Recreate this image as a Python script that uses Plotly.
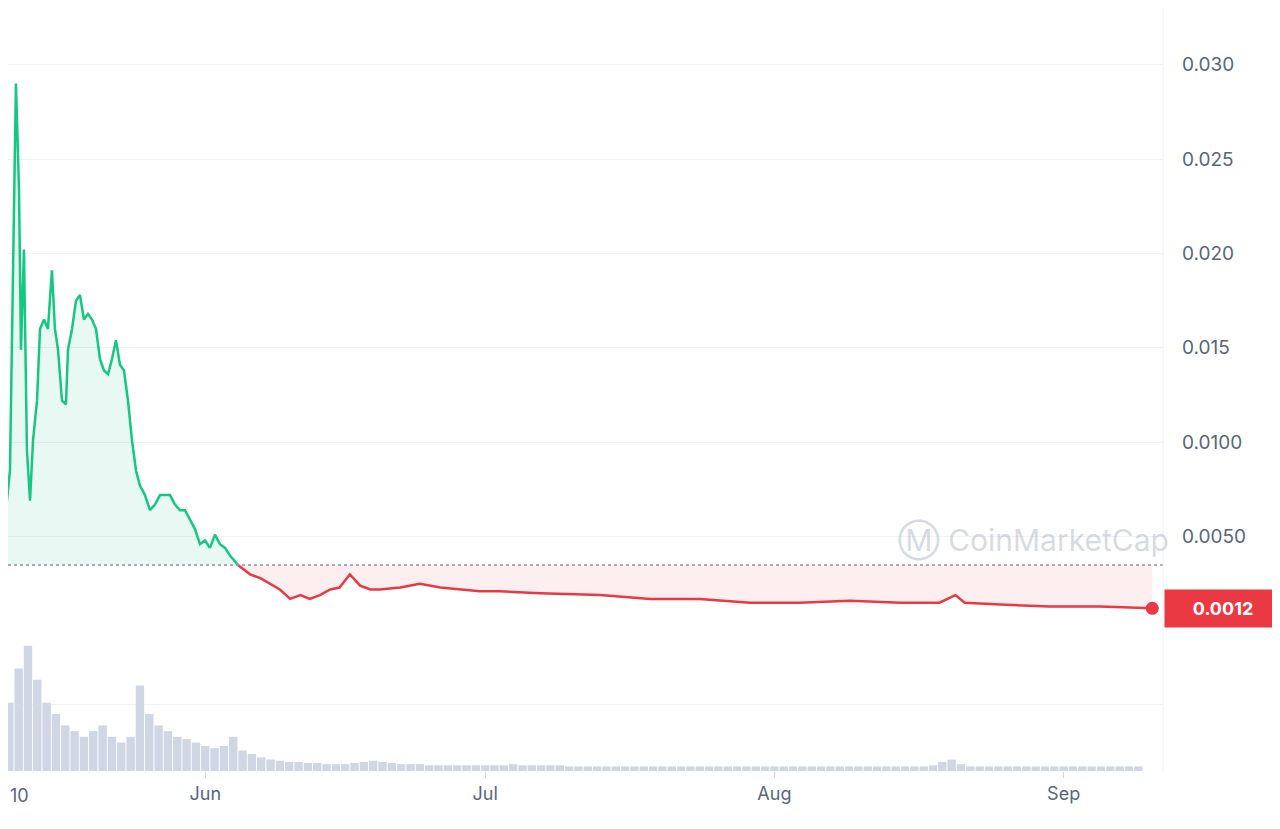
import plotly.graph_objects as go
import pandas as pd

start = pd.Timestamp("2023-05-10")
green_days = [0,0.54,1.07,1.5,1.71,2.04,2.25,2.57,2.89,3.22,3.54,3.97,4.29,4.72,5.14,5.57,5.89,6.22,6.65,7.07,7.29,7.72,8.15,8.57,9.0,9.43,9.86,10.29,10.72,11.15,11.58,12.0,12.43,12.86,13.29,13.72,14.15,14.58,15.0,15.54,16.08,16.61,17.15,17.68,18.22,18.76,19.29,19.83,20.36,20.9,21.44,21.97,22.5,23.04,23.58,24.12,24.65,25.19,25.5]
green_price = [0.0046,0.0059,0.0085,0.0229,0.0290,0.0234,0.0149,0.0202,0.0096,0.0069,0.0101,0.0122,0.0160,0.0165,0.0160,0.0191,0.0160,0.0149,0.0122,0.0120,0.0149,0.0160,0.0175,0.0178,0.0165,0.0168,0.0165,0.0160,0.0144,0.0138,0.0136,0.0144,0.0154,0.0141,0.0138,0.0122,0.0101,0.0085,0.0077,0.0072,0.0064,0.0067,0.0072,0.0072,0.0072,0.0067,0.0064,0.0064,0.0059,0.0054,0.0046,0.0048,0.0044,0.0051,0.0046,0.0044,0.0040,0.0037,0.0035]
red_days = [25.5,26.8,27.9,28.9,30.0,31.1,32.2,33.2,34.3,35.4,36.4,37.5,38.6,39.7,40.7,42.9,45.0,47.2,49.3,51.4,53.6,57.9,64.3,69.7,75.0,80.4,85.7,91.1,96.5,100.7,102.4,103.4,107.2,112.5,117.9,123.5]
red_price = [0.0035,0.0030,0.0028,0.0025,0.0022,0.0017,0.0019,0.0017,0.0019,0.0022,0.0023,0.0030,0.0024,0.0022,0.0022,0.0023,0.0025,0.0023,0.0022,0.0021,0.0021,0.0020,0.0019,0.0017,0.0017,0.0015,0.0015,0.0016,0.0015,0.0015,0.0019,0.0015,0.0014,0.0013,0.0013,0.0012]
volume = [30,60,90,110,80,60,50,40,35,30,35,40,30,25,30,75,50,40,35,30,28,25,22,20,22,30,18,15,12,10,
          9,8,8,7,7,6,6,6,7,8,9,8,7,6,6,6,5,5,5,5,5,5,5,5,5,6,5,5,5,5,5,4,4,4,4,4,4,4,4,4,
          4,4,4,4,4,4,4,4,4,4,4,4,4,4,4,4,4,4,4,4,4,4,4,4,4,4,4,4,4,4,5,8,10,6,4,4,4,4,4,4,
          4,4,4,4,4,4,4,4,4,4,4,4,4]
baseline = 0.0035
last_label = "0.0012"
ytick_vals = [0.005,0.010,0.015,0.020,0.025,0.030]
ytick_text = ["0.0050","0.0100","0.015","0.020","0.025","0.030"]
xtick_dates = ["2023-06-01","2023-07-01","2023-08-01","2023-09-01"]
xtick_text = ["Jun","Jul","Aug","Sep"]
first_tick_text = "10"

to_dt = lambda ds: [start + pd.Timedelta(days=d) for d in ds]
gx, rx = to_dt(green_days), to_dt(red_days)
vx = to_dt(list(range(len(volume))))
xstart = start + pd.Timedelta(days=0.86)
xend = start + pd.Timedelta(days=124.65)

fig = go.Figure()
fig.add_trace(go.Scatter(x=gx, y=[baseline]*len(gx), mode="lines", line=dict(width=0), showlegend=False, hoverinfo="skip"))
fig.add_trace(go.Scatter(x=gx, y=green_price, mode="lines", line=dict(color="#16c784", width=2.5), fill="tonexty", fillcolor="rgba(22,199,132,0.10)", showlegend=False))
fig.add_trace(go.Scatter(x=rx, y=[baseline]*len(rx), mode="lines", line=dict(width=0), showlegend=False, hoverinfo="skip"))
fig.add_trace(go.Scatter(x=rx, y=red_price, mode="lines", line=dict(color="#ea3943", width=2.5), fill="tonexty", fillcolor="rgba(234,57,67,0.08)", showlegend=False))
fig.add_trace(go.Scatter(x=[rx[-1]], y=[red_price[-1]], mode="markers", marker=dict(color="#ea3943", size=13), showlegend=False))
fig.add_trace(go.Bar(x=vx, y=volume, marker=dict(color="#cfd6e4", line=dict(width=0)), yaxis="y2", showlegend=False))

fig.add_shape(type="line", xref="x", yref="y", x0=xstart, x1=xend, y0=baseline, y1=baseline, line=dict(color="#8a94a6", width=1.5, dash="dot"))
fig.add_shape(type="line", xref="paper", yref="paper", x0=1, x1=1, y0=0, y1=1, line=dict(color="#eff2f5", width=1))
fig.add_annotation(xref="paper", yref="y", x=1.0, xanchor="left", xshift=1, y=red_price[-1], text="<b>"+last_label+"</b>", showarrow=False,
                   font=dict(color="white", size=18, family="Inter"), bgcolor="#ea3943", borderpad=8, width=100)
fig.add_annotation(xref="paper", yref="y", x=1.0, xanchor="right", xshift=8, y=0.0048, text="Ⓜ CoinMarketCap", showarrow=False,
                   font=dict(color="rgba(140,150,170,0.35)", size=30, family="Inter"))
fig.add_annotation(xref="paper", yref="paper", x=0, xanchor="left", xshift=0, y=0, yanchor="top", yshift=-12, text=first_tick_text, showarrow=False,
                   font=dict(size=18, color="#58667e", family="Inter"))

fig.update_layout(
    width=1280, height=829, margin=dict(l=0, r=125, t=0, b=66),
    plot_bgcolor="white", paper_bgcolor="white", bargap=0.1,
    xaxis=dict(range=[xstart, xend], tickvals=xtick_dates, ticktext=xtick_text,
               showgrid=False, showline=False, ticks="outside", ticklen=6, tickcolor="#cfd6e4",
               tickfont=dict(size=18, color="#58667e", family="Inter"), anchor="y2"),
    yaxis=dict(domain=[0.1835, 1], range=[0, 0.0330], side="right", tickvals=ytick_vals, ticktext=ytick_text,
               gridcolor="#eff2f5", zeroline=False, showline=False, ticks="", tickfont=dict(size=19, color="#58667e", family="Inter"), ticklabelstandoff=18),
    yaxis2=dict(domain=[0, 0.1717], range=[0, 115], side="right", showticklabels=False, tickvals=[0, 58],
                gridcolor="#eff2f5", zeroline=False),
)
fig.write_html("out.html")
